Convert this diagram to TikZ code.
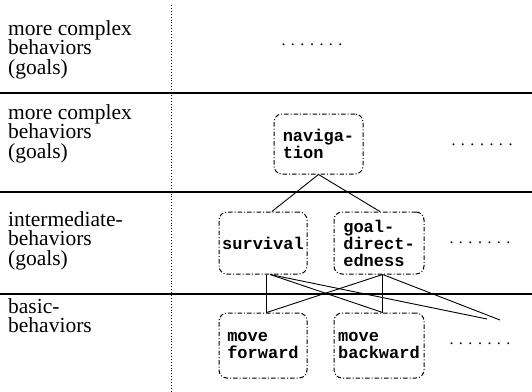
\documentclass[tikz,border=0pt]{standalone}
\usepackage{fontspec}
\setmainfont{Liberation Serif}
\setmonofont{Liberation Mono}
\usetikzlibrary{calc}
\newcommand{\sevendots}{.\hspace{5.5pt}.\hspace{5.5pt}.\hspace{5.5pt}.\hspace{5.5pt}.\hspace{5.5pt}.\hspace{5.5pt}.}
\tikzset{
  rule/.style={line width=2.2pt},
  divider/.style={dotted, line width=0.9pt},
  beh/.style={draw, dash pattern=on 4.5pt off 2pt on 1pt off 2pt, rounded corners=8pt, line width=1pt, inner sep=0pt,
    align=left, font=\fontsize{17}{17}\selectfont\ttfamily\bfseries},
  lvl/.style={anchor=north west, align=left, inner sep=0pt, font=\fontsize{21.5}{19.5}\selectfont},
  more/.style={inner sep=0pt, font=\fontsize{16}{19}\selectfont},
  link/.style={line width=0.9pt}
}
\begin{document}
\begin{tikzpicture}[x=1pt,y=-1pt]
\useasboundingbox (0,0) rectangle (532,391);
% horizontal rules
\coordinate (r1l) at (0,93);  \coordinate (r1r) at (532,93);
\coordinate (r2l) at (0,192); \coordinate (r2r) at (532,192);
\coordinate (r3l) at (0,294); \coordinate (r3r) at (532,294);
\draw[rule] (r1l) -- (r1r);
\draw[rule] (r2l) -- (r2r);
\draw[rule] (r3l) -- (r3r);
% vertical divider
\coordinate (dvt) at (171,5); \coordinate (dvb) at (171,391);
\draw[divider] (dvt) -- (dvb);
% level labels
\node[lvl] (l1) at (8,20) {more complex\\behaviors\\(goals)};
\node[lvl] (l2) at (8,104) {more complex\\behaviors\\(goals)};
\node[lvl] (l3) at (8,211) {intermediate-\\behaviors\\(goals)};
\node[lvl] (l4) at (8,298) {basic-\\behaviors};
% behaviour boxes
\node[beh, minimum width=89pt, minimum height=60pt] (nav) at (318.5,144) {naviga-\\tion};
\node[beh, minimum width=88pt, minimum height=62pt] (surv) at (263,243) {survival};
\node[beh, minimum width=90pt, minimum height=62pt] (goal) at (379,243) {goal-\\direct-\\edness};
\node[beh, minimum width=88pt, minimum height=65pt] (mf) at (263,345.5) {move\\forward};
\node[beh, minimum width=90pt, minimum height=65pt] (mb) at (379,345.5) {move\\backward};
% ellipses
\node[more] (d1) at (312,45) {\sevendots};
\node[more] (d2) at (482,145) {\sevendots};
\node[more] (d3) at (480,243) {\sevendots};
\node[more] (d4) at (480,344) {\sevendots};
% connectors
\draw[link] (nav.south) -- ($(surv.north west)!0.6!(surv.north east)$);
\draw[link] (nav.south) -- ($(goal.north west)!0.51!(goal.north east)$);
\coordinate (s1) at ($(surv.south west)!0.54!(surv.south east)$);
\coordinate (s2) at ($(surv.south west)!0.58!(surv.south east)$);
\coordinate (g1) at ($(goal.south west)!0.54!(goal.south east)$);
\coordinate (f1) at ($(mf.north west)!0.54!(mf.north east)$);
\coordinate (b1) at ($(mb.north west)!0.54!(mb.north east)$);
\coordinate (x1) at (487,319);
\coordinate (x2) at (500,320);
\draw[link] (s1) -- (f1);
\draw[link] (s2) -- (b1);
\draw[link] (s2) -- (x1);
\draw[link] (g1) -- (b1);
\draw[link] (g1) -- (f1);
\draw[link] (g1) -- (x2);
\end{tikzpicture}
\end{document}
